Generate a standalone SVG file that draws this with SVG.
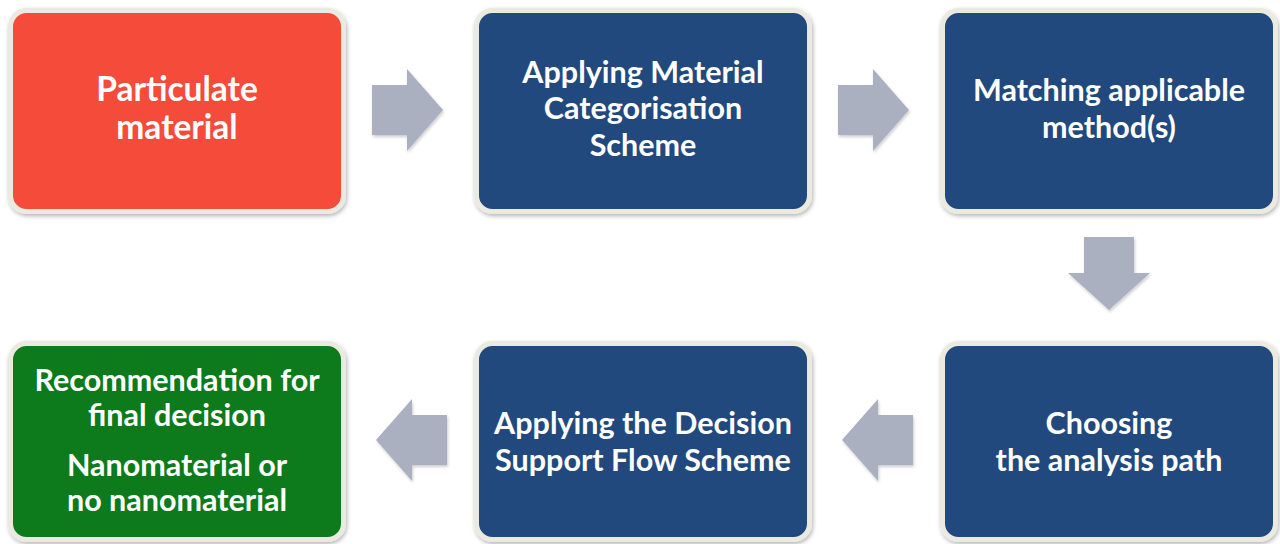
<svg xmlns="http://www.w3.org/2000/svg" width="1280" height="544" viewBox="0 0 1280 544">
<defs>
<style>
.box{stroke:#ebeae1;stroke-width:5;filter:url(#sh)}
.red{fill:#f44c3a}.blue{fill:#214a7d}.green{fill:#0e7a1f}
.arr{fill:#aab0c0;filter:url(#sh2)}
text{font-family:Lato,"Open Sans","Liberation Sans",sans-serif;font-weight:bold;font-size:30.5px;fill:#ffffff;text-anchor:middle}
.big{font-size:33.5px}
</style>
<filter id="sh" x="-10%" y="-10%" width="120%" height="120%">
<feDropShadow dx="1" dy="2" stdDeviation="2" flood-color="#000" flood-opacity="0.3"/>
</filter>
<filter id="sh2" x="-10%" y="-10%" width="130%" height="130%">
<feDropShadow dx="1" dy="2" stdDeviation="1.5" flood-color="#000" flood-opacity="0.2"/>
</filter>
</defs>
<rect width="1280" height="544" fill="#ffffff"/>
<g id="connectors">
<polygon class="arr" points="372,85 407,85 407,69 443,110 407,151 407,135 372,135"/>
<polygon class="arr" points="838,85 873,85 873,69 909,110 873,151 873,135 838,135"/>
<polygon class="arr" points="1084,237 1134,237 1134,273 1150,273 1109,310 1068,273 1084,273"/>
<polygon class="arr" points="913,415 878,415 878,399 842,440 878,481 878,465 913,465"/>
<polygon class="arr" points="447,415 412,415 412,399 376,440 412,481 412,465 447,465"/>
</g>
<g id="n1">
<rect class="box red" x="10.5" y="10.5" width="333" height="201" rx="16"/>
<text class="big" x="177" y="101">Particulate</text>
<text class="big" x="177" y="139">material</text>
</g>
<g id="n2">
<rect class="box blue" x="476.5" y="10.5" width="333" height="201" rx="16"/>
<text x="643" y="83">Applying Material</text>
<text x="643" y="119">Categorisation</text>
<text x="643" y="156">Scheme</text>
</g>
<g id="n3">
<rect class="box blue" x="942.5" y="10.5" width="333" height="201" rx="16"/>
<text x="1109" y="101">Matching applicable</text>
<text x="1109" y="138">method(s)</text>
</g>
<g id="n4">
<rect class="box blue" x="942.5" y="343.5" width="333" height="196" rx="16"/>
<text x="1109" y="434">Choosing</text>
<text x="1109" y="471">the analysis path</text>
</g>
<g id="n5">
<rect class="box blue" x="476.5" y="343.5" width="333" height="196" rx="16"/>
<text x="643" y="434">Applying the Decision</text>
<text x="643" y="471">Support Flow Scheme</text>
</g>
<g id="n6">
<rect class="box green" x="10.5" y="343.5" width="333" height="196" rx="16"/>
<text x="177" y="391">Recommendation for</text>
<text x="177" y="426">final decision</text>
<text x="177" y="476">Nanomaterial or</text>
<text x="177" y="511">no nanomaterial</text>
</g>
</svg>
